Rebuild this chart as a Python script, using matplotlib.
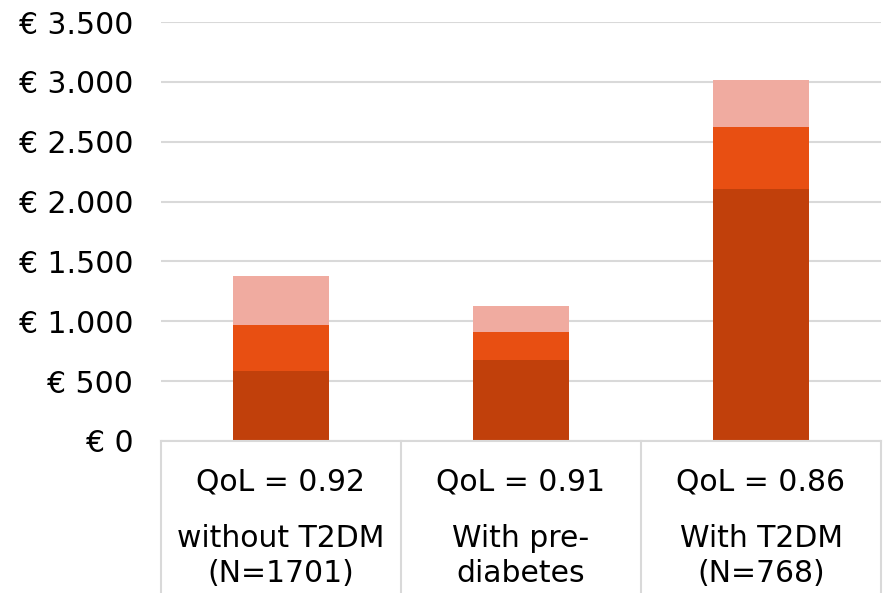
import numpy as np
import matplotlib.pyplot as plt
import matplotlib.transforms as mtransforms

# data
groups = ["without T2DM\n(N=1701)", "With pre-\ndiabetes", "With T2DM\n(N=768)"]
qol = ["QoL = 0.92", "QoL = 0.91", "QoL = 0.86"]
cost_dark = [585, 677, 2105]
cost_mid = [384, 234, 518]
cost_light = [409, 217, 393]

yticks = [0, 500, 1000, 1500, 2000, 2500, 3000, 3500]
ytick_labels = ["€ 0", "€ 500", "€ 1.000", "€ 1.500", "€ 2.000", "€ 2.500", "€ 3.000", "€ 3.500"]

c_dark = "#C1400B"
c_mid = "#E84F12"
c_light = "#F0ABA0"
grid_c = "#D9D9D9"
fs = 21.5

fig = plt.figure(figsize=(8.83, 5.93), dpi=100)
W, H = 883, 593
ax = fig.add_axes([161 / W, 1 - 441 / H, 720 / W, 419 / H])

x = np.arange(len(groups))
bw = 0.4
d = np.array(cost_dark)
m = np.array(cost_mid)
l = np.array(cost_light)
ax.bar(x, d, bw, color=c_dark, zorder=3)
ax.bar(x, m, bw, bottom=d, color=c_mid, zorder=3)
ax.bar(x, l, bw, bottom=d + m, color=c_light, zorder=3)

ax.set_xlim(-0.5, 2.5)
ax.set_ylim(0, 3500)
ax.set_yticks(yticks)
ax.set_yticklabels(ytick_labels, fontsize=fs)
ax.tick_params(axis="y", length=0, pad=20)
ax.set_xticks([])
ax.yaxis.grid(True, color=grid_c, linewidth=1.5, zorder=0)
for s in ax.spines.values():
    s.set_visible(False)

# category "table" below the axis
trans = mtransforms.blended_transform_factory(ax.transData, ax.transAxes)
ax.plot([-0.5, 2.5], [0, 0], transform=trans, color=grid_c, lw=1.5, clip_on=False, zorder=4)
for xv in [-0.5, 0.5, 1.5, 2.5]:
    ax.plot([xv, xv], [0, -0.4], transform=trans, color=grid_c, lw=1.5, clip_on=False)

px = 1 / 419
for i in range(len(groups)):
    ax.text(x[i], -41 * px, qol[i], transform=trans, ha="center", va="center", fontsize=fs)
    ax.text(x[i], -83 * px, groups[i], transform=trans, ha="center", va="top",
            fontsize=fs, linespacing=1.25)

fig.savefig("out.png", dpi=100)
